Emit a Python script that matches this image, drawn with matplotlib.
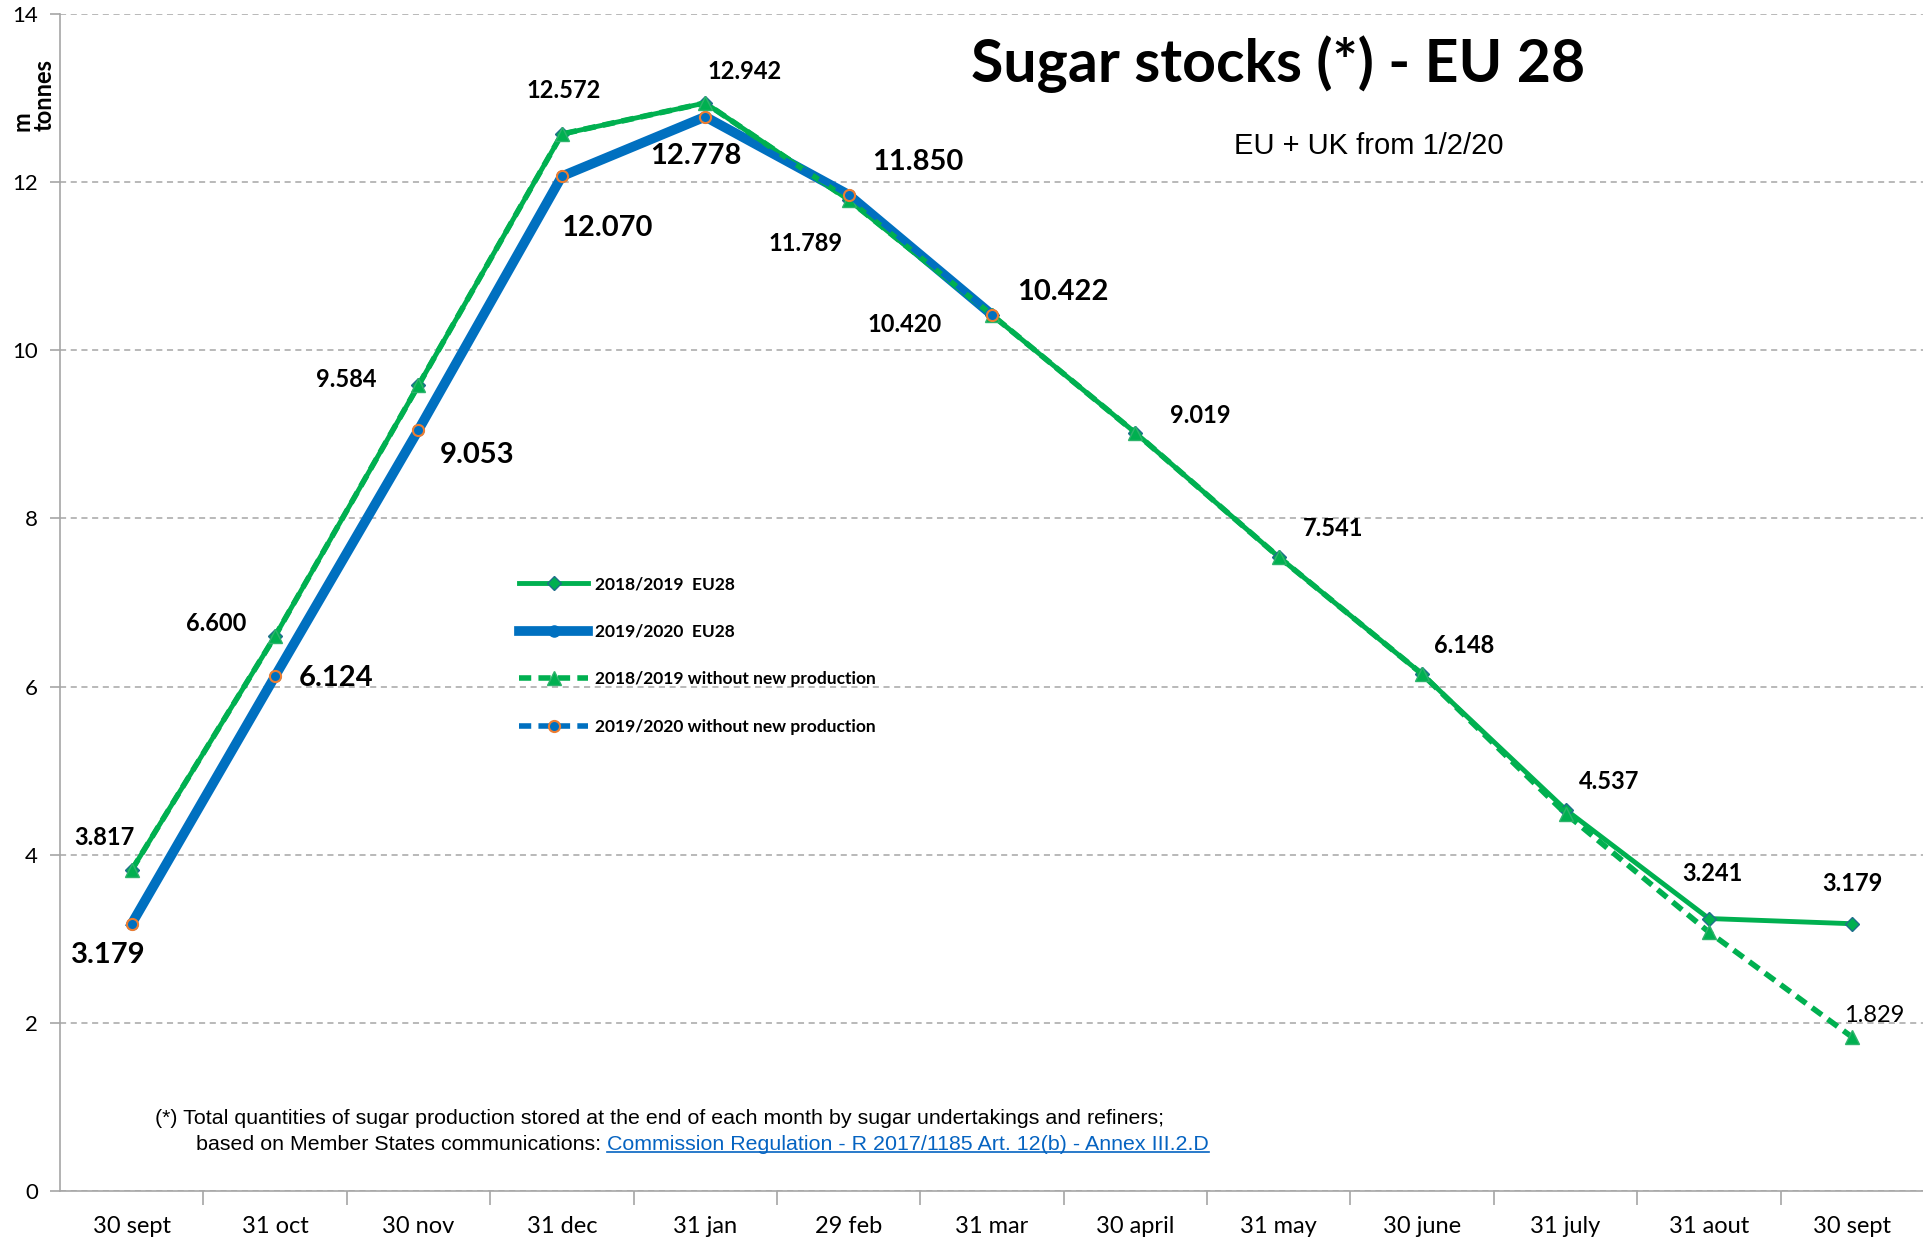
import matplotlib
matplotlib.use('Agg')
import matplotlib.pyplot as plt
from matplotlib.lines import Line2D

# ---------------- data ----------------
months = ['30 sept', '31 oct', '30 nov', '31 dec', '31 jan', '29 feb', '31 mar',
          '30 april', '31 may', '30 june', '31 july', '31 aout', '30 sept']
eu28_1819 = [3.817, 6.600, 9.584, 12.572, 12.942, 11.789, 10.420,
             9.019, 7.541, 6.148, 4.537, 3.241, 3.179]
nonew_1819 = [3.817, 6.600, 9.584, 12.572, 12.942, 11.789, 10.420,
              9.019, 7.541, 6.148, 4.49, 3.08, 1.829]
eu28_1920 = [3.179, 6.124, 9.053, 12.070, 12.778, 11.850, 10.422]
nonew_1920 = [3.179, 6.124, 9.053, 12.070, 12.778, 11.850, 10.422]

# which points get a data label (index), and pixel offsets of the label
lab_1819 = [0, 1, 2, 3, 4, 7, 8, 9, 10, 11, 12]
off_1819 = [(-27, 33), (-59, 13), (-72, 6), (2, 44), (39, 31), (65, 17),
            (54, 29), (42, 29), (44, 28), (4, 45), (0, 40)]
lab_nonew = [5, 6, 12]
off_nonew = [(-43, -44), (-87, -10), (22, 22)]
off_1920 = [(-23, -31), (61, -2), (59, -25), (45, -52), (-9, -39), (69, 33), (71, 23)]

GREEN = '#00B050'
BLUE = '#0070C0'
ORANGE = '#ED7D31'

plt.rcParams['font.family'] = ['Lato', 'DejaVu Sans']

fig = plt.figure(figsize=(19.24, 12.42), dpi=100)
ax = fig.add_axes([60 / 1924, 1 - 1191 / 1242, 1 - 60 / 1924, (1191 - 14) / 1242])

x_all = list(range(len(months)))
x_1920 = x_all[:len(eu28_1920)]

l2, = ax.plot(x_1920, eu28_1920, color=BLUE, lw=7, marker='o', ms=8,
              mfc=BLUE, mec=BLUE, zorder=3, label='2019/2020  EU28')
l1, = ax.plot(x_all, eu28_1819, color=GREEN, lw=3.5, marker='D', ms=7.5,
              mfc=GREEN, mec='#1F6E8C', mew=1, zorder=4, label='2018/2019  EU28')
l3, = ax.plot(x_all, nonew_1819, color=GREEN, lw=4, ls=(0, (2.2, 1.3)), marker='^', ms=10,
              mfc=GREEN, mec='#2DB36B', zorder=5, label='2018/2019 without new production')
l4, = ax.plot(x_1920, nonew_1920, color=BLUE, lw=4, ls=(0, (2.2, 1.3)), marker='o', ms=8,
              mfc=BLUE, mec=ORANGE, mew=1.5, zorder=6, label='2019/2020 without new production')

# data labels
for i, (dx, dy) in zip(lab_1819, off_1819):
    ax.annotate('%.3f' % eu28_1819[i], (i, eu28_1819[i]), xytext=(dx, dy),
                textcoords='offset pixels', ha='center', va='center',
                fontsize=17, fontweight='bold', zorder=8)
for i, (dx, dy) in zip(lab_nonew, off_nonew):
    w = 'normal' if i == 12 else 'bold'
    ax.annotate('%.3f' % nonew_1819[i], (i, nonew_1819[i]), xytext=(dx, dy),
                textcoords='offset pixels', ha='center', va='center',
                fontsize=17, fontweight=w, zorder=8)
for i, (dx, dy) in enumerate(off_1920):
    ax.annotate('%.3f' % eu28_1920[i], (i, eu28_1920[i]), xytext=(dx, dy),
                textcoords='offset pixels', ha='center', va='center',
                fontsize=21, fontweight='bold', zorder=8)

# axes styling
ax.set_xlim(-0.5, len(months) - 0.5)
ax.set_ylim(0, 14)
ax.set_yticks(range(0, 15, 2))
ax.set_xticks(x_all)
ax.set_xticklabels(months, fontsize=17)
ax.set_xticks([k + 0.5 for k in range(len(months) - 1)], minor=True)
ax.tick_params(axis='x', which='major', length=0, pad=18)
ax.tick_params(axis='x', which='minor', length=10, color='#A6A6A6', width=1.2)
ax.tick_params(axis='y', labelsize=16, length=7, color='#A6A6A6', width=1.2, pad=9)
ax.grid(axis='y', color='#A6A6A6', ls=(0, (4, 3)), lw=1.1)
ax.set_axisbelow(True)
for s in ['top', 'right']:
    ax.spines[s].set_visible(False)
for s in ['left', 'bottom']:
    ax.spines[s].set_color('#A6A6A6')
    ax.spines[s].set_linewidth(1.2)

# legend
fig.legend(handles=[l1, l2, l3, l4], loc='upper left',
           bbox_to_anchor=(519 / 1924, 1 - 576 / 1242), frameon=False,
           prop={'weight': 'bold', 'size': 12.5}, numpoints=1,
           handlelength=4.0, handletextpad=0.4, labelspacing=1.82,
           borderpad=0, borderaxespad=0)

# titles
fig.text(1278 / 1924, 1 - 64 / 1242, 'Sugar stocks (*) - EU 28', ha='center', va='center',
         fontsize=42.5, fontweight='bold')
fig.text(1369 / 1924, 1 - 146 / 1242, 'EU + UK from 1/2/20', ha='center', va='center',
         fontsize=21, family='Liberation Sans')

# y unit
fig.text(22 / 1924, 1 - 131 / 1242, 'm', rotation=90, ha='center', va='bottom',
         fontsize=17, fontweight='bold')
fig.text(44 / 1924, 1 - 131 / 1242, 'tonnes', rotation=90, ha='center', va='bottom',
         fontsize=17, fontweight='bold')

# footnote
foot_font = ['Liberation Sans Narrow', 'Liberation Sans']
fig.text(155 / 1924, 1 - 1119 / 1242,
         '(*) Total quantities of sugar production stored at the end of each month by sugar undertakings and refiners;',
         ha='left', va='center', fontsize=15.4, family=foot_font)
t2 = fig.text(196 / 1924, 1 - 1144 / 1242, 'based on Member States communications: ',
              ha='left', va='center', fontsize=15.4, family=foot_font)
link = ax.annotate('Commission Regulation - R 2017/1185 Art. 12(b) - Annex III.2.D',
                   xy=(1, 0.5), xycoords=t2, ha='left', va='center',
                   fontsize=15.4, family=foot_font, color='#0563C1')

fig.canvas.draw()
bb = link.get_window_extent()
fig.add_artist(Line2D([bb.x0, bb.x1], [bb.y0 + 2, bb.y0 + 2], transform=None,
                      color='#0563C1', lw=1.2))

fig.savefig('out.png', dpi=100)
